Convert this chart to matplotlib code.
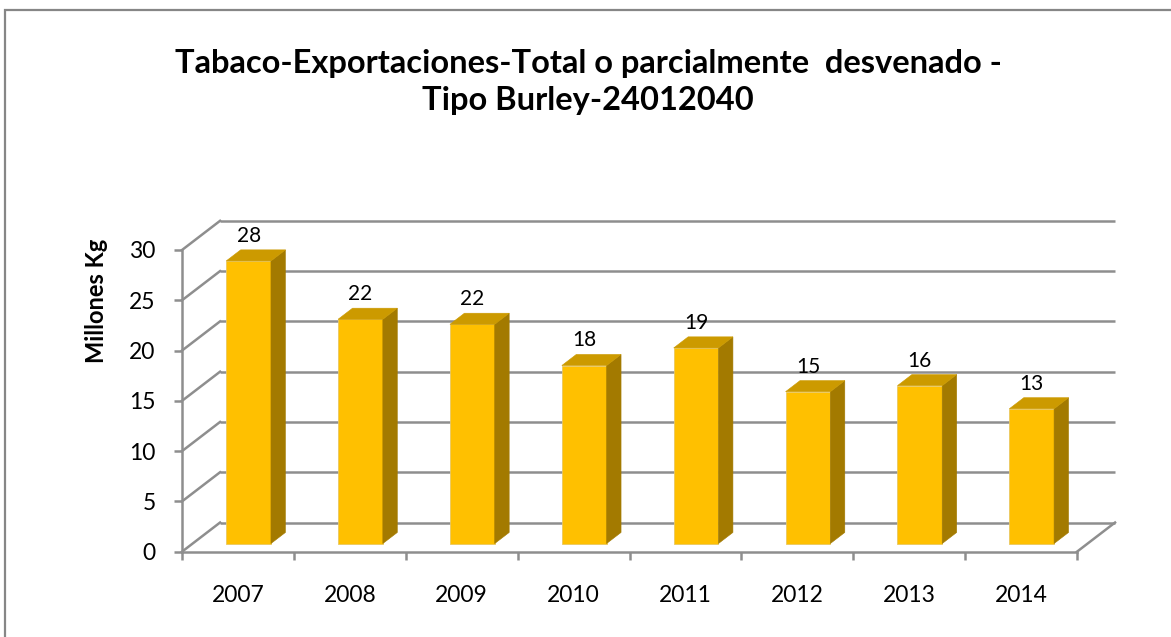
import matplotlib
matplotlib.use("Agg")
import matplotlib.pyplot as plt
from matplotlib.patches import Polygon, Rectangle
from matplotlib.lines import Line2D
from matplotlib.ticker import FixedLocator, NullFormatter

years = ["2007", "2008", "2009", "2010", "2011", "2012", "2013", "2014"]
millones_kg = [28.1, 22.3, 21.8, 17.7, 19.45, 15.1, 15.7, 13.4]
y_ticks = [0, 5, 10, 15, 20, 25, 30]

title = "Tabaco-Exportaciones-Total o parcialmente  desvenado -\nTipo Burley-24012040"
ylabel = "Millones Kg"

FRONT = "#FFC000"
TOP = "#CC9A00"
SIDE = "#A37A00"
GRID = "#8E8E8E"

# oblique depth offset of the back wall (data units)
DX, DY = 0.34, 2.9
# depth range of the bars and their width in category units
D0, D1 = 0.28, 0.66
BW = 0.40

plt.rcParams["font.family"] = ["Lato", "DejaVu Sans"]

W, H = 1171, 637
fig = plt.figure(figsize=(W / 100, H / 100), dpi=100)

# outer chart border (right/bottom fall outside the picture)
fig.patches.append(Rectangle((4.5 / W, -0.1), 1.2, (H - 10) / H + 0.1,
                             transform=fig.transFigure, fill=False,
                             edgecolor="#868686", linewidth=1.6))

x0, x1, y0, y1 = 182, 1077, 551.7, 250
ax = fig.add_axes([x0 / W, (H - y0) / H, (x1 - x0) / W, (y0 - y1) / H])
n = len(years)
ax.set_xlim(0, n)
ax.set_ylim(0, 30)
ax.patch.set_visible(False)

lw = 1.8
# back wall gridlines and left wall diagonals
for v in y_ticks:
    ax.add_line(Line2D([DX, n + DX], [v + DY, v + DY], color=GRID, lw=lw,
                       clip_on=False, zorder=1, solid_capstyle="butt"))
    ax.add_line(Line2D([0, DX], [v, v + DY], color=GRID, lw=lw,
                       clip_on=False, zorder=1))
# floor right edge
ax.add_line(Line2D([n, n + DX], [0, DY], color=GRID, lw=lw, clip_on=False, zorder=1))

# bars
for i, v in enumerate(millones_kg):
    xl = i + 0.5 - BW / 2 + D0 * DX
    xr = xl + BW
    yb = D0 * DY
    yt = v + D0 * DY
    ddx, ddy = (D1 - D0) * DX, (D1 - D0) * DY
    front = Polygon([(xl, yb), (xr, yb), (xr, yt), (xl, yt)], closed=True,
                    facecolor=FRONT, edgecolor="#E9C860", lw=0.6, zorder=3, clip_on=False)
    side = Polygon([(xr, yb), (xr + ddx, yb + ddy), (xr + ddx, yt + ddy), (xr, yt)],
                   closed=True, facecolor=SIDE, edgecolor=SIDE, lw=0.4, zorder=3, clip_on=False)
    top = Polygon([(xl, yt), (xr, yt), (xr + ddx, yt + ddy), (xl + ddx, yt + ddy)],
                  closed=True, facecolor=TOP, edgecolor=TOP, lw=0.4, zorder=3, clip_on=False)
    for p in (front, side, top):
        ax.add_patch(p)
    ax.text((xl + xr) / 2, yt + ddy + 0.4, "%.0f" % v, ha="center", va="bottom",
            fontsize=15, color="black", zorder=4, clip_on=False)

# axes, ticks and labels
for s in ("top", "right"):
    ax.spines[s].set_visible(False)
for s in ("left", "bottom"):
    ax.spines[s].set_color(GRID)
    ax.spines[s].set_linewidth(lw)
    ax.spines[s].set_zorder(2)

ax.set_yticks(y_ticks)
ax.set_yticklabels([str(t) for t in y_ticks])
ax.tick_params(axis="y", length=6, width=lw, color=GRID, pad=13, labelsize=16.5)

ax.set_xticks([i + 0.5 for i in range(n)])
ax.set_xticklabels(years)
ax.tick_params(axis="x", which="major", length=0, pad=24, labelsize=16.5)
ax.xaxis.set_minor_locator(FixedLocator(range(n + 1)))
ax.xaxis.set_minor_formatter(NullFormatter())
ax.tick_params(axis="x", which="minor", length=6, width=lw, color=GRID)

fig.text(96 / W, 1 - 301 / H, ylabel, rotation=90, ha="center", va="center",
         fontsize=17, fontweight="bold")
fig.text(588 / W, 1 - 82 / H, title, ha="center", va="center", fontsize=23.5,
         fontweight="bold", linespacing=1.3)

fig.savefig("out.png", dpi=100)
